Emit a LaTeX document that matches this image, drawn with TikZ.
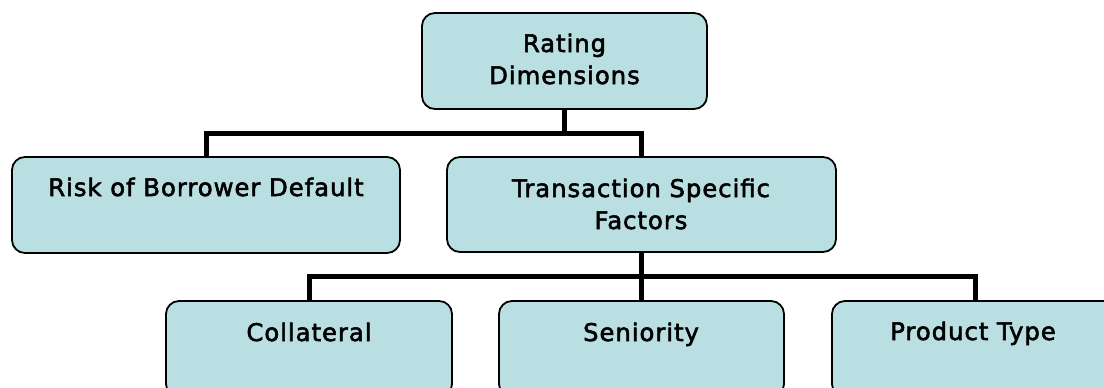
\documentclass[tikz,border=0pt]{standalone}
\usepackage{fontspec}
\newfontfamily\labfont[LetterSpace=4,FakeBold=2.2]{DejaVu Sans}
\definecolor{boxfill}{RGB}{186,223,226}
\begin{document}
\begin{tikzpicture}[x=1pt,y=-1pt,
  box/.style={draw=black, line width=1.8pt, fill=boxfill, rounded corners=13pt, inner sep=0pt},
  lab/.style={font=\labfont\fontsize{24.3}{32}\selectfont, align=center, inner sep=0pt, text=black, anchor=base},
  conn/.style={draw=black, line width=5pt}]
\useasboundingbox (0,0) rectangle (1104,388);
\begin{scope}
\clip (0,0) rectangle (1104,388);
% boxes
\node[box, minimum width=285pt, minimum height=96pt] (top) at (564.5,61) {};
\node[box, minimum width=388pt, minimum height=96pt] (risk) at (206,205) {};
\node[box, minimum width=389pt, minimum height=95pt] (tsf) at (641.5,204.5) {};
\node[box, minimum width=286pt, minimum height=96pt] (coll) at (309,349) {};
\node[box, minimum width=285pt, minimum height=96pt] (sen) at (641.5,349) {};
\node[box, minimum width=286pt, minimum height=96pt] (prod) at (975,349) {};
% labels (anchor=base is the baseline of the last line)
\node[lab] (top-t) at (564.5,84) {Rating\\Dimensions};
\node[lab] (risk-t) at (206,196) {Risk of Borrower Default};
\node[lab] (tsf-t) at (641,229) {Transaction Specific\\Factors};
\node[lab] (coll-t) at (309,341) {Collateral};
\node[lab] (sen-t) at (641,341) {Seniority};
\node[lab] (prod-t) at (973,340) {Product Type};
% junctions
\coordinate (j1) at (564.5,133);
\coordinate (j2) at (641.5,276.5);
% connectors
\draw[conn] (top.south) -- (j1);
\draw[conn] (risk.north) |- (j1) -| (tsf.north);
\draw[conn] (tsf.south) -- (sen.north);
\draw[conn] (coll.north) |- (j2) -| (prod.north);
\end{scope}
\end{tikzpicture}
\end{document}
